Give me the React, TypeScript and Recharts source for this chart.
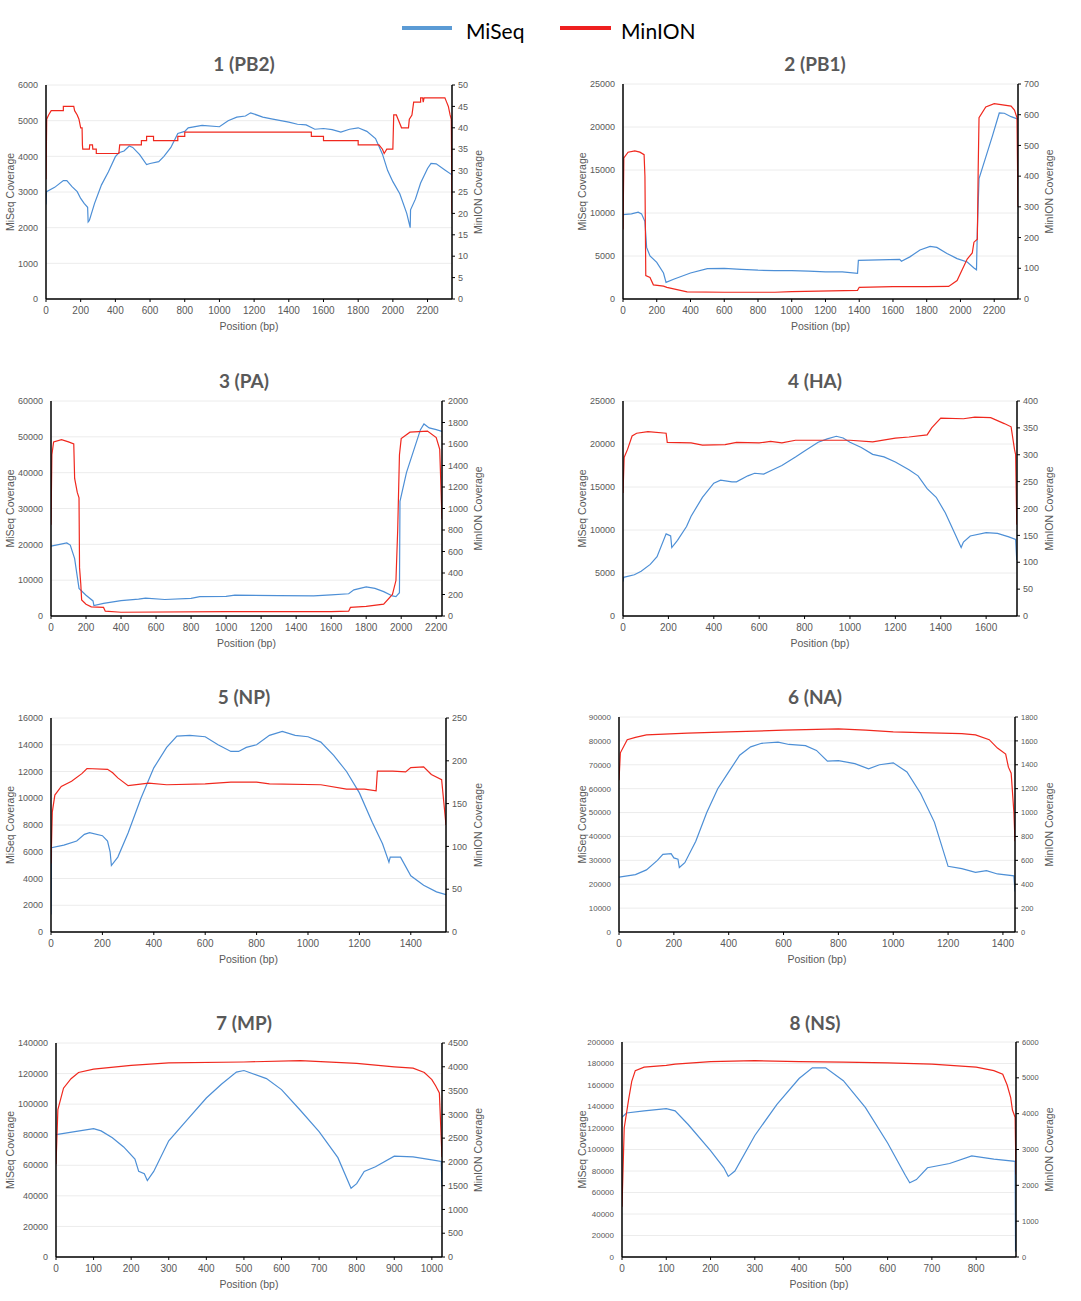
import { LineChart, Line, XAxis, YAxis, CartesianGrid } from "recharts";

type Pt = [number, number];

// ---- coverage traces: [position (bp), coverage] ----
const pb2MiSeq: Pt[] = [
  [0, 2650], [3, 3010], [50, 3130], [100, 3320], [120, 3320], [150, 3150], [180, 3010], [200, 2820],
  [220, 2680], [240, 2570], [243, 2160], [250, 2200], [280, 2680], [320, 3200], [360, 3570], [400, 3990],
  [420, 4100], [450, 4150], [480, 4290], [500, 4250], [540, 4050], [580, 3770], [600, 3800], [650, 3850],
  [680, 4000], [720, 4250], [760, 4640], [800, 4700], [820, 4800], [900, 4870], [1000, 4830], [1050, 5000],
  [1100, 5100], [1150, 5130], [1180, 5220], [1250, 5100], [1300, 5050], [1400, 4960], [1450, 4900],
  [1500, 4880], [1550, 4760], [1600, 4780], [1650, 4750], [1700, 4680], [1750, 4760], [1800, 4800],
  [1850, 4700], [1900, 4500], [1940, 4060], [1970, 3600], [2000, 3290], [2040, 2950], [2080, 2400],
  [2100, 2000], [2102, 2500], [2130, 2800], [2160, 3250], [2200, 3660], [2220, 3800], [2250, 3790],
  [2300, 3620], [2341, 3480],
];
const pb2MinION: Pt[] = [
  [0, 28], [4, 42], [15, 43], [30, 44], [100, 44], [100, 45], [160, 45], [165, 44], [180, 43], [190, 42],
  [200, 40], [208, 40], [210, 36], [212, 35], [250, 35], [252, 36], [268, 36], [270, 35], [290, 35],
  [290, 34], [420, 34], [425, 36], [550, 36], [550, 37], [580, 37], [580, 38], [620, 38], [620, 37],
  [760, 37], [760, 38], [800, 38], [800, 39], [1530, 39], [1530, 38], [1600, 38], [1600, 37], [1800, 37],
  [1800, 36], [1920, 36], [1940, 35], [1950, 34], [1965, 35], [2000, 35], [2005, 43], [2020, 43],
  [2030, 42], [2040, 41], [2050, 40], [2090, 40], [2095, 42], [2110, 43], [2120, 46], [2160, 46],
  [2160, 47], [2172, 47], [2175, 46], [2180, 47], [2300, 47], [2310, 46], [2320, 45], [2330, 43],
  [2337, 42], [2341, 20],
];
const pb1MiSeq: Pt[] = [
  [0, 9800], [50, 9900], [90, 10100], [110, 9900], [130, 9000], [140, 6000], [160, 5000], [200, 4260],
  [240, 3020], [255, 1940], [300, 2300], [400, 3020], [500, 3530], [600, 3550], [700, 3450], [800, 3350],
  [900, 3300], [1000, 3300], [1100, 3250], [1200, 3150], [1300, 3150], [1390, 2990], [1395, 4500],
  [1640, 4600], [1650, 4400], [1700, 4900], [1760, 5700], [1820, 6120], [1860, 6000], [1920, 5300],
  [1980, 4700], [2040, 4300], [2080, 3600], [2095, 3400], [2100, 8000], [2110, 14000], [2150, 16500],
  [2190, 19000], [2230, 21630], [2260, 21600], [2300, 21200], [2341, 20900],
];
const pb1MinION: Pt[] = [
  [0, 226], [5, 459], [30, 478], [70, 482], [100, 478], [125, 470], [130, 400], [135, 76], [160, 70],
  [180, 46], [240, 42], [260, 38], [300, 33], [380, 23], [600, 22], [900, 22], [1000, 24], [1390, 28],
  [1400, 38], [1600, 40], [1800, 40], [1930, 41], [1980, 60], [2010, 95], [2040, 130], [2070, 150],
  [2080, 185], [2100, 195], [2105, 420], [2110, 590], [2150, 625], [2200, 636], [2300, 628], [2320, 615],
  [2335, 590], [2341, 300],
];
const paMiSeq: Pt[] = [
  [0, 19500], [50, 20000], [90, 20400], [110, 19800], [135, 16000], [150, 11000], [160, 7700],
  [200, 5800], [240, 4200], [245, 2900], [300, 3500], [400, 4300], [500, 4700], [540, 5000], [650, 4600],
  [800, 4900], [850, 5400], [1000, 5500], [1050, 5800], [1300, 5700], [1500, 5600], [1600, 5900],
  [1700, 6200], [1730, 7300], [1800, 8100], [1850, 7700], [1900, 6800], [1950, 5600], [1970, 5400],
  [1990, 6500], [1993, 32000], [2030, 40000], [2070, 46000], [2110, 52000], [2130, 53600], [2160, 52500],
  [2200, 52000], [2233, 51500],
];
const paMinION: Pt[] = [
  [0, 850], [5, 1500], [15, 1620], [60, 1640], [100, 1620], [130, 1600], [135, 1280], [150, 1150],
  [160, 1100], [163, 450], [170, 300], [175, 150], [200, 110], [230, 85], [300, 80], [310, 45], [400, 35],
  [1000, 40], [1600, 40], [1700, 45], [1710, 80], [1800, 90], [1900, 110], [1950, 200], [1970, 330],
  [1980, 800], [1990, 1500], [2000, 1650], [2050, 1710], [2150, 1720], [2200, 1660], [2220, 1550],
  [2233, 900],
];
const haMiSeq: Pt[] = [
  [0, 4000], [3, 4500], [50, 4800], [80, 5200], [120, 6000], [150, 6900], [190, 9550], [210, 9300],
  [215, 7960], [240, 8800], [280, 10400], [300, 11600], [350, 13800], [400, 15450], [430, 15800],
  [480, 15600], [500, 15600], [550, 16300], [580, 16600], [620, 16500], [660, 17000], [700, 17500],
  [760, 18500], [800, 19200], [860, 20200], [900, 20600], [940, 20900], [970, 20700], [1000, 20200],
  [1050, 19600], [1100, 18800], [1150, 18500], [1200, 17900], [1260, 17000], [1300, 16300], [1340, 14800],
  [1380, 13800], [1420, 12000], [1460, 9700], [1490, 7960], [1500, 8600], [1530, 9300], [1600, 9700],
  [1650, 9600], [1700, 9200], [1730, 8900], [1735, 6500],
];
const haMinION: Pt[] = [
  [0, 229], [5, 295], [20, 310], [40, 335], [60, 340], [110, 343], [190, 340], [195, 323], [300, 322],
  [350, 318], [450, 319], [500, 323], [600, 322], [650, 325], [700, 322], [760, 327], [900, 327],
  [1000, 327], [1100, 324], [1200, 331], [1260, 333], [1340, 337], [1360, 350], [1400, 368], [1500, 367],
  [1550, 370], [1620, 369], [1680, 358], [1710, 352], [1725, 310], [1730, 300], [1735, 170],
];
const npMiSeq: Pt[] = [
  [0, 1300], [2, 6300], [50, 6500], [100, 6800], [130, 7300], [150, 7430], [200, 7200], [220, 6800],
  [230, 6000], [235, 4970], [260, 5600], [300, 7400], [350, 10000], [400, 12270], [450, 13800],
  [490, 14650], [540, 14700], [600, 14600], [650, 14000], [700, 13500], [730, 13500], [760, 13800],
  [800, 14000], [850, 14700], [900, 15000], [950, 14700], [1000, 14600], [1050, 14200], [1100, 13200],
  [1150, 12000], [1200, 10400], [1250, 8200], [1290, 6600], [1315, 5220], [1320, 5600], [1360, 5600],
  [1400, 4200], [1450, 3500], [1500, 3000], [1537, 2800],
];
const npMinION: Pt[] = [
  [0, 80], [5, 140], [15, 160], [40, 170], [80, 176], [120, 185], [140, 191], [220, 190], [240, 186],
  [260, 180], [300, 171], [380, 174], [450, 172], [600, 173], [700, 175], [800, 175], [850, 173],
  [1050, 172], [1150, 167], [1220, 167], [1265, 165], [1270, 188], [1330, 188], [1380, 187], [1400, 192],
  [1450, 193], [1480, 184], [1520, 178], [1537, 125],
];
const naMiSeq: Pt[] = [
  [0, 23000], [60, 24000], [100, 26000], [140, 30000], [160, 32500], [190, 32800], [200, 31000],
  [215, 30500], [220, 27000], [240, 29000], [280, 38000], [320, 50000], [360, 60000], [400, 67000],
  [440, 74000], [480, 77500], [520, 79000], [580, 79500], [620, 78500], [680, 78000], [720, 76000],
  [760, 71500], [800, 71700], [860, 70500], [910, 68300], [950, 70000], [1000, 70800], [1050, 67000],
  [1100, 58000], [1150, 46000], [1200, 27500], [1250, 26500], [1300, 25000], [1340, 25700], [1380, 24300],
  [1440, 23500], [1444, 17000],
];
const naMinION: Pt[] = [
  [0, 1270], [5, 1500], [30, 1610], [60, 1630], [100, 1650], [250, 1665], [400, 1675], [600, 1690],
  [800, 1700], [900, 1690], [1000, 1675], [1100, 1670], [1250, 1660], [1300, 1650], [1350, 1610],
  [1380, 1540], [1410, 1490], [1420, 1380], [1430, 1330], [1440, 1000], [1444, 760],
];
const mpMiSeq: Pt[] = [
  [0, 80000], [50, 82000], [100, 84000], [120, 82500], [150, 78000], [180, 72000], [210, 64000],
  [220, 56000], [235, 54500], [243, 50000], [260, 56000], [300, 76000], [350, 90000], [400, 104000],
  [440, 113000], [480, 121000], [500, 122000], [560, 116700], [600, 109500], [650, 96000], [700, 82000],
  [750, 65000], [785, 45000], [800, 48000], [820, 56000], [850, 59000], [900, 66000], [950, 65500],
  [1000, 63500], [1025, 62500], [1027, 46000],
];
const mpMinION: Pt[] = [
  [0, 1950], [5, 3100], [20, 3550], [40, 3750], [60, 3880], [100, 3950], [200, 4030], [300, 4080],
  [500, 4100], [650, 4130], [800, 4070], [900, 4000], [950, 3970], [980, 3880], [1000, 3730],
  [1010, 3600], [1020, 3450], [1027, 2100],
];
const nsMiSeq: Pt[] = [
  [0, 130000], [10, 134000], [50, 136000], [100, 138000], [120, 136000], [150, 123000], [200, 99000],
  [230, 83000], [240, 75000], [255, 80000], [300, 113000], [350, 142000], [400, 166000], [430, 176000],
  [460, 176000], [500, 164000], [550, 139000], [600, 106000], [640, 76000], [650, 69000], [665, 72000],
  [690, 83000], [740, 87000], [790, 94000], [840, 91000], [888, 89000], [889, 5000],
];
const nsMinION: Pt[] = [
  [0, 1400], [5, 3600], [15, 4400], [22, 4900], [30, 5200], [50, 5300], [100, 5350], [120, 5380],
  [200, 5450], [300, 5480], [400, 5450], [500, 5440], [600, 5420], [700, 5380], [800, 5300], [840, 5200],
  [860, 5100], [870, 4800], [878, 4450], [882, 4100], [888, 3900], [890, 2300],
];

const segmentTitles = ["1 (PB2)", "2 (PB1)", "3 (PA)", "4 (HA)", "5 (NP)", "6 (NA)", "7 (MP)", "8 (NS)"];
const segmentLengths = [2341, 2341, 2233, 1736, 1537, 1444, 1027, 890];
const miseqSeries = [pb2MiSeq, pb1MiSeq, paMiSeq, haMiSeq, npMiSeq, naMiSeq, mpMiSeq, nsMiSeq];
const minionSeries = [pb2MinION, pb1MinION, paMinION, haMinION, npMinION, naMinION, mpMinION, nsMinION];

const positionTicks = [
  [0, 200, 400, 600, 800, 1000, 1200, 1400, 1600, 1800, 2000, 2200],
  [0, 200, 400, 600, 800, 1000, 1200, 1400, 1600, 1800, 2000, 2200],
  [0, 200, 400, 600, 800, 1000, 1200, 1400, 1600, 1800, 2000, 2200],
  [0, 200, 400, 600, 800, 1000, 1200, 1400, 1600],
  [0, 200, 400, 600, 800, 1000, 1200, 1400],
  [0, 200, 400, 600, 800, 1000, 1200, 1400],
  [0, 100, 200, 300, 400, 500, 600, 700, 800, 900, 1000],
  [0, 100, 200, 300, 400, 500, 600, 700, 800],
];
const miseqTicks = [
  [0, 1000, 2000, 3000, 4000, 5000, 6000],
  [0, 5000, 10000, 15000, 20000, 25000],
  [0, 10000, 20000, 30000, 40000, 50000, 60000],
  [0, 5000, 10000, 15000, 20000, 25000],
  [0, 2000, 4000, 6000, 8000, 10000, 12000, 14000, 16000],
  [0, 10000, 20000, 30000, 40000, 50000, 60000, 70000, 80000, 90000],
  [0, 20000, 40000, 60000, 80000, 100000, 120000, 140000],
  [0, 20000, 40000, 60000, 80000, 100000, 120000, 140000, 160000, 180000, 200000],
];
const minionTicks = [
  [0, 5, 10, 15, 20, 25, 30, 35, 40, 45, 50],
  [0, 100, 200, 300, 400, 500, 600, 700],
  [0, 200, 400, 600, 800, 1000, 1200, 1400, 1600, 1800, 2000],
  [0, 50, 100, 150, 200, 250, 300, 350, 400],
  [0, 50, 100, 150, 200, 250],
  [0, 200, 400, 600, 800, 1000, 1200, 1400, 1600, 1800],
  [0, 500, 1000, 1500, 2000, 2500, 3000, 3500, 4000, 4500],
  [0, 1000, 2000, 3000, 4000, 5000, 6000],
];

// ---- layout (page pixels) ----
const plotBoxes = [
  { left: 46, top: 85, right: 452, bottom: 299 },
  { left: 623, top: 84, right: 1018, bottom: 299 },
  { left: 51, top: 401, right: 442, bottom: 616 },
  { left: 623, top: 401, right: 1017, bottom: 616 },
  { left: 51, top: 718, right: 446, bottom: 932 },
  { left: 619, top: 717, right: 1015, bottom: 932 },
  { left: 56, top: 1043, right: 442, bottom: 1257 },
  { left: 622, top: 1042, right: 1016, bottom: 1257 },
];
const titleY = [63, 63, 380, 380, 696, 696, 1022, 1022];
const yTickFont = [9, 9, 9, 9, 9, 8, 9, 8];

const BLUE = "#4d8fd6";
const RED = "#f0281e";
const GRAY = "#595959";

const toPoints = (arr: Pt[]) => arr.map(([x, y]) => ({ x, y }));

function Panel({ i }: { i: number }) {
  const col = i % 2;
  const chartLeft = col === 0 ? 0 : 540;
  const chartWidth = col === 0 ? 540 : 541;
  const box = plotBoxes[i];
  const chartTop = box.top - 12;
  const chartHeight = box.bottom - chartTop + 40;
  const leftW = box.left - chartLeft;
  const rightW = chartLeft + chartWidth - box.right;
  const leftLabelX = col === 0 ? 10 : 42;
  const rightLabelOffset = col === 0 ? 62 : 32;
  const miMax = miseqTicks[i][miseqTicks[i].length - 1];
  const mnMax = minionTicks[i][minionTicks[i].length - 1];
  const axisStyle = { stroke: "#000", strokeWidth: 1.5 };

  return (
    <>
      <div
        style={{
          position: "absolute",
          left: col === 0 ? 244 : 815,
          top: titleY[i],
          transform: "translate(-50%, -50%)",
          fontFamily: "Lato, sans-serif",
          fontWeight: 700,
          fontSize: 19,
          color: GRAY,
          whiteSpace: "nowrap",
          lineHeight: 1,
        }}
      >
        {segmentTitles[i]}
      </div>
      <div style={{ position: "absolute", left: chartLeft, top: chartTop }}>
        <LineChart
          width={chartWidth}
          height={chartHeight}
          margin={{ top: 12, right: 0, bottom: 0, left: 0 }}
        >
          <CartesianGrid yAxisId="left" vertical={false} stroke="#ececec" />
          <XAxis
            dataKey="x"
            type="number"
            domain={[0, segmentLengths[i]]}
            ticks={positionTicks[i]}
            interval={0}
            allowDataOverflow
            height={40}
            tick={{ fontSize: 10, fill: GRAY }}
            tickSize={3}
            tickMargin={5}
            axisLine={axisStyle}
            tickLine={{ stroke: "#000" }}
            label={{ value: "Position (bp)", position: "insideBottom", offset: 9, fill: GRAY, fontSize: 10.5 }}
          />
          <YAxis
            yAxisId="left"
            orientation="left"
            width={leftW}
            domain={[0, miMax]}
            ticks={miseqTicks[i]}
            interval={0}
            allowDataOverflow
            tick={{ fontSize: yTickFont[i], fill: GRAY }}
            tickSize={6}
            tickMargin={2}
            tickLine={false}
            axisLine={axisStyle}
            label={{
              value: "MiSeq Coverage",
              angle: -90,
              position: "insideLeft",
              offset: leftLabelX - (col === 0 ? 0 : 0),
              fill: GRAY,
              fontSize: 10.5,
              style: { textAnchor: "middle" },
            }}
          />
          <YAxis
            yAxisId="right"
            orientation="right"
            width={rightW}
            domain={[0, mnMax]}
            ticks={minionTicks[i]}
            interval={0}
            allowDataOverflow
            tick={{ fontSize: yTickFont[i] === 8 ? 7.5 : 9, fill: GRAY }}
            tickSize={3}
            tickMargin={3}
            tickLine={{ stroke: "#000" }}
            axisLine={axisStyle}
            label={{
              value: "MinION Coverage",
              angle: -90,
              position: "insideRight",
              offset: rightLabelOffset,
              fill: GRAY,
              fontSize: 10.5,
              style: { textAnchor: "middle" },
            }}
          />
          <Line
            yAxisId="left"
            data={toPoints(miseqSeries[i])}
            dataKey="y"
            type="linear"
            stroke={BLUE}
            strokeWidth={1.2}
            dot={false}
            isAnimationActive={false}
          />
          <Line
            yAxisId="right"
            data={toPoints(minionSeries[i])}
            dataKey="y"
            type="linear"
            stroke={RED}
            strokeWidth={1.2}
            dot={false}
            isAnimationActive={false}
          />
        </LineChart>
      </div>
    </>
  );
}

export default function App() {
  return (
    <div
      style={{
        position: "relative",
        width: 1081,
        height: 1301,
        background: "#fff",
        fontFamily: "'Liberation Sans', Arial, sans-serif",
        overflow: "hidden",
      }}
    >
      <style>{"body { margin: 0; }"}</style>
      {/* legend */}
      <div style={{ position: "absolute", left: 402, top: 26, width: 50, height: 4, background: "#5b9bd5" }} />
      <div style={{ position: "absolute", left: 466, top: 30, transform: "translateY(-50%)", fontFamily: "Lato, sans-serif", fontSize: 21, lineHeight: 1 }}>
        MiSeq
      </div>
      <div style={{ position: "absolute", left: 560, top: 26, width: 51, height: 4, background: "#ee1f1f" }} />
      <div style={{ position: "absolute", left: 621, top: 30, transform: "translateY(-50%)", fontFamily: "Lato, sans-serif", fontSize: 21, lineHeight: 1 }}>
        MinION
      </div>
      {segmentTitles.map((_, i) => (
        <Panel key={i} i={i} />
      ))}
    </div>
  );
}
